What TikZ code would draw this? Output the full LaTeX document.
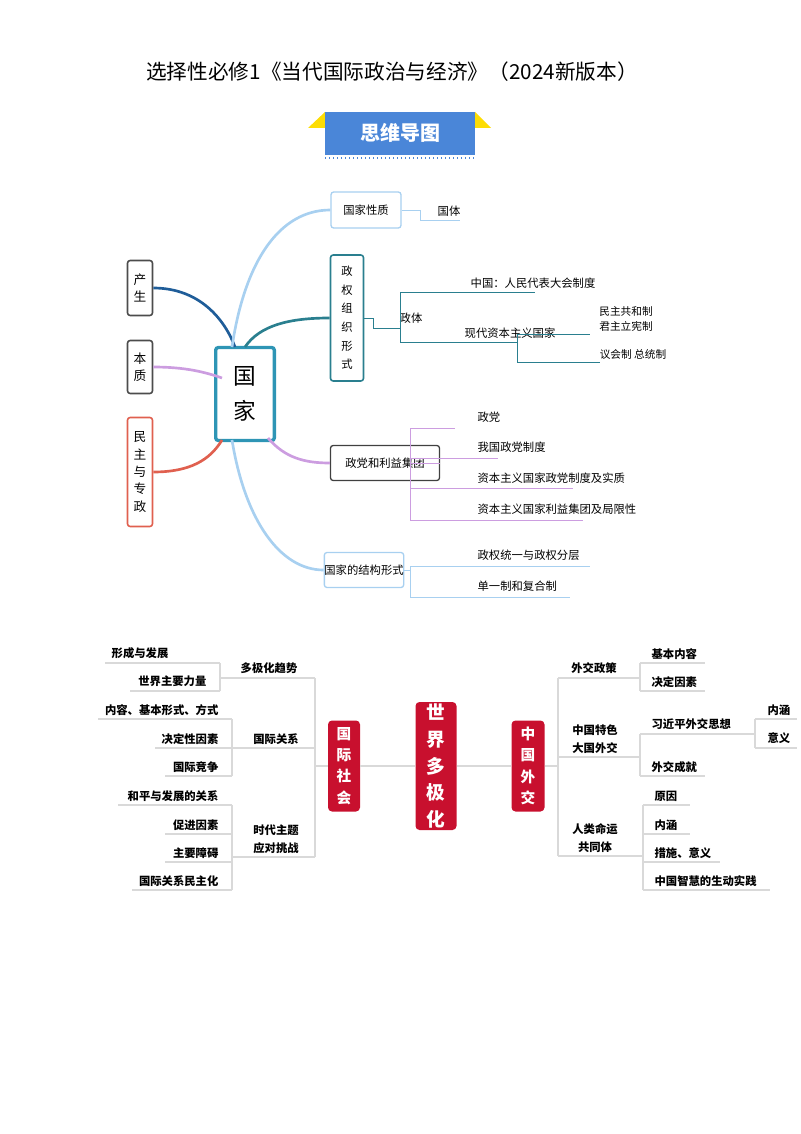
\documentclass[tikz,border=0pt]{standalone}
\usepackage{fontspec}
\setmainfont{Noto Sans CJK SC}
\definecolor{tealA}{HTML}{2E95B5}
\definecolor{tealB}{HTML}{2A7F8F}
\definecolor{lblue}{HTML}{A8D0F0}
\definecolor{lav}{HTML}{CC9DE0}
\definecolor{redA}{HTML}{E0604F}
\definecolor{dblue}{HTML}{1F5D99}
\definecolor{crim}{HTML}{C8102E}
\definecolor{bannr}{HTML}{4A86D8}
\definecolor{gline}{HTML}{D9D9D9}
\tikzset{
  smalltxt/.style={font=\fontsize{8.5}{10}\selectfont, inner sep=1pt},
  bt/.style={font=\fontsize{8.5}{10}\selectfont\bfseries, inner sep=1pt},
  vbox/.style={draw, rounded corners=2pt, line width=1.2pt, align=center, font=\fontsize{9.5}{13}\selectfont, inner sep=0pt},
  hbox/.style={draw, rounded corners=2pt, line width=1pt, inner sep=0pt, font=\fontsize{8.5}{10}\selectfont},
  redbox/.style={fill=crim, rounded corners=3pt, text=white, align=center, inner sep=0pt, font=\fontsize{13}{17}\selectfont\bfseries},
}
\begin{document}
\begin{tikzpicture}[x=0.75pt,y=-0.75pt]
\useasboundingbox (0,0) rectangle (800,1134);
% title
\node[font=\fontsize{15.5}{18}\selectfont] (title) at (392,72) {选择性必修1《当代国际政治与经济》（2024新版本）};
% banner
\fill[yellow!80!orange] (308,128) -- (325,112) -- (325,128) -- cycle;
\fill[yellow!80!orange] (475,112) -- (491,128) -- (475,128) -- cycle;
\fill[bannr] (325,112) rectangle (475,155);
\node[text=white, font=\fontsize{15}{18}\selectfont\bfseries] (banner) at (400,133) {思维导图};
\draw[bannr, dotted, line width=1pt] (325,158) -- (475,158);

% ===== part 1 =====
\node[vbox, draw=tealA, line width=2.5pt, minimum width=44pt*0.75/0.75, minimum height=93*0.75pt, text width=30pt, font=\fontsize{17}{26}\selectfont] (guo) at (245,394) {国\\家};
\node[vbox, draw=black!70, minimum width=25*0.75pt, minimum height=55*0.75pt] (cs) at (140,288) {产\\生};
\node[vbox, draw=black!70, minimum width=25*0.75pt, minimum height=53*0.75pt] (bz) at (140,367) {本\\质};
\node[vbox, draw=redA, minimum width=25*0.75pt, minimum height=109*0.75pt] (mz) at (140,472) {民\\主\\与\\专\\政};
\draw[dblue, line width=2pt] (cs.east) .. controls (200,288) and (225,320) .. (235,347);
\draw[lav, line width=2pt] (bz.east) .. controls (185,367) and (205,372) .. (222,378);
\draw[redA, line width=2pt] (mz.east) .. controls (190,472) and (210,460) .. (222,440);

\node[hbox, draw=lblue, minimum width=70*0.75pt, minimum height=36*0.75pt] (xz) at (366,210) {国家性质};
\node[vbox, draw=tealB, minimum width=33*0.75pt, minimum height=126*0.75pt, font=\fontsize{8.5}{14}\selectfont] (zq) at (347,318) {政\\权\\组\\织\\形\\式};
\node[hbox, draw=black!75, minimum width=109*0.75pt, minimum height=35*0.75pt] (zd) at (385,463) {政党和利益集团};
\node[hbox, draw=lblue, minimum width=65*0.75pt, minimum height=35*0.75pt] (jg) at (364,570) {国家的结构形式};

\draw[lblue, line width=2pt] (232,347) .. controls (245,260) and (280,210) .. (xz.west);
\draw[tealB, line width=2pt] (245,347) .. controls (260,325) and (290,318) .. (zq.west);
\draw[lav, line width=2pt] (268,438) .. controls (285,458) and (305,463) .. (zd.west);
\draw[lblue, line width=2pt] (232,440) .. controls (245,520) and (280,570) .. (jg.west);

% 国体
\node[smalltxt] (gt) at (449,211) {国体};
\draw[lblue] (xz.east) -- (420,210) -- (420,220) -- (460,220);
% 政体
\node[smalltxt] (zt) at (411,318) {政体};
\draw[tealB] (zq.east) -- (373,318) -- (373,328) -- (400,328);
\draw[tealB] (400,292) -- (400,342);
\draw[tealB] (400,292) -- (535,292);
\draw[tealB] (400,342) -- (517,342);
\node[smalltxt] (zg) at (533,283) {中国：人民代表大会制度};
\node[smalltxt] (xd) at (510,333) {现代资本主义国家};
\draw[tealB] (517,334) -- (517,362);
\draw[tealB] (517,334) -- (590,334);
\draw[tealB] (517,362) -- (600,362);
\node[smalltxt, align=left, font=\fontsize{8}{11}\selectfont] (gh) at (626,319) {民主共和制\\君主立宪制};
\node[smalltxt, font=\fontsize{8}{10}\selectfont] (yh) at (633,354) {议会制 总统制};
% 政党
\draw[lav] (zd.east) -- (410,463);
\draw[lav] (410,428) -- (410,520);
\draw[lav] (410,428) -- (455,428);
\draw[lav] (410,458) -- (498,458);
\draw[lav] (410,488) -- (573,488);
\draw[lav] (410,520) -- (583,520);
\node[smalltxt, anchor=base west] (p1) at (476,421) {政党};
\node[smalltxt, anchor=base west] (p2) at (476,451) {我国政党制度};
\node[smalltxt, anchor=base west] (p3) at (476,482) {资本主义国家政党制度及实质};
\node[smalltxt, anchor=base west] (p4) at (476,513) {资本主义国家利益集团及局限性};
% 结构
\draw[lblue] (jg.east) -- (410,570);
\draw[lblue] (410,566) -- (410,597);
\draw[lblue] (410,566) -- (590,566);
\draw[lblue] (410,597) -- (570,597);
\node[smalltxt, anchor=base west] (s1) at (476,559) {政权统一与政权分层};
\node[smalltxt, anchor=base west] (s2) at (476,590) {单一制和复合制};

% ===== part 2 =====
\node[redbox, minimum width=41*0.75pt, minimum height=128*0.75pt, font=\fontsize{14}{20}\selectfont\bfseries] (sj) at (436,766) {世\\界\\多\\极\\化};
\node[redbox, minimum width=32*0.75pt, minimum height=91*0.75pt, font=\fontsize{11}{16}\selectfont\bfseries] (gs) at (344,766) {国\\际\\社\\会};
\node[redbox, minimum width=33*0.75pt, minimum height=91*0.75pt, font=\fontsize{11}{16}\selectfont\bfseries] (zw) at (528,766) {中\\国\\外\\交};
\draw[gline, line width=1pt] (gs.east) -- (sj.west);
\draw[gline, line width=1pt] (sj.east) -- (zw.west);

% left main bracket
\draw[gline, line width=1pt] (gs.west) -- (315,766);
\draw[gline, line width=1pt] (315,678) -- (315,857);
% G1
\draw[gline, line width=1pt] (315,678) -- (220,678);
\draw[gline, line width=1pt] (220,663) -- (220,691);
\draw[gline, line width=1pt] (220,663) -- (105,663);
\draw[gline, line width=1pt] (220,691) -- (130,691);
\node[bt, anchor=base] (d1) at (269,672) {多极化趋势};
\node[bt, anchor=base east] (d2) at (170,657) {形成与发展};
\node[bt, anchor=base east] (d3) at (208,685) {世界主要力量};
% G2
\draw[gline, line width=1pt] (315,748) -- (232,748);
\draw[gline, line width=1pt] (232,719) -- (232,776);
\draw[gline, line width=1pt] (232,719) -- (98,719);
\draw[gline, line width=1pt] (232,748) -- (155,748);
\draw[gline, line width=1pt] (232,776) -- (165,776);
\node[bt, anchor=base] (r0) at (276,743) {国际关系};
\node[bt, anchor=base east] (r1) at (220,714) {内容、基本形式、方式};
\node[bt, anchor=base east] (r2) at (220,743) {决定性因素};
\node[bt, anchor=base east] (r3) at (220,771) {国际竞争};
% G3
\draw[gline, line width=1pt] (315,857) -- (232,857);
\draw[gline, line width=1pt] (232,805) -- (232,890);
\draw[gline, line width=1pt] (232,805) -- (118,805);
\draw[gline, line width=1pt] (232,834) -- (165,834);
\draw[gline, line width=1pt] (232,862) -- (165,862);
\draw[gline, line width=1pt] (232,890) -- (132,890);
\node[bt, align=center, font=\fontsize{8.5}{13.5}\selectfont\bfseries] (t0) at (276,839) {时代主题\\应对挑战};
\node[bt, anchor=base east] (t1) at (220,800) {和平与发展的关系};
\node[bt, anchor=base east] (t2) at (220,829) {促进因素};
\node[bt, anchor=base east] (t3) at (220,857) {主要障碍};
\node[bt, anchor=base east] (t4) at (220,885) {国际关系民主化};

% right main bracket
\draw[gline, line width=1pt] (zw.east) -- (558,766);
\draw[gline, line width=1pt] (558,678) -- (558,856);
% R1
\draw[gline, line width=1pt] (558,678) -- (640,678);
\draw[gline, line width=1pt] (640,663) -- (640,691);
\draw[gline, line width=1pt] (640,663) -- (705,663);
\draw[gline, line width=1pt] (640,691) -- (705,691);
\node[bt, anchor=base] (w0) at (594,672) {外交政策};
\node[bt, anchor=base west] (w1) at (650,658) {基本内容};
\node[bt, anchor=base west] (w2) at (650,686) {决定因素};
% R2
\draw[gline, line width=1pt] (558,757) -- (640,757);
\draw[gline, line width=1pt] (640,734) -- (640,776);
\draw[gline, line width=1pt] (640,734) -- (755,734);
\draw[gline, line width=1pt] (640,776) -- (705,776);
\draw[gline, line width=1pt] (755,719) -- (755,748);
\draw[gline, line width=1pt] (755,719) -- (797,719);
\draw[gline, line width=1pt] (755,748) -- (797,748);
\node[bt, align=center, font=\fontsize{8.5}{13.5}\selectfont\bfseries] (c0) at (595,739) {中国特色\\大国外交};
\node[bt, anchor=base west] (c1) at (650,728) {习近平外交思想};
\node[bt, anchor=base west] (c2) at (650,771) {外交成就};
\node[bt, anchor=base west] (c3) at (766,714) {内涵};
\node[bt, anchor=base west] (c4) at (766,742) {意义};
% R3
\draw[gline, line width=1pt] (558,856) -- (643,856);
\draw[gline, line width=1pt] (643,805) -- (643,890);
\draw[gline, line width=1pt] (643,805) -- (690,805);
\draw[gline, line width=1pt] (643,834) -- (690,834);
\draw[gline, line width=1pt] (643,862) -- (720,862);
\draw[gline, line width=1pt] (643,890) -- (770,890);
\node[bt, align=center, font=\fontsize{8.5}{13.5}\selectfont\bfseries] (h0) at (595,838) {人类命运\\共同体};
\node[bt, anchor=base west] (h1) at (653,800) {原因};
\node[bt, anchor=base west] (h2) at (653,829) {内涵};
\node[bt, anchor=base west] (h3) at (653,857) {措施、意义};
\node[bt, anchor=base west] (h4) at (653,885) {中国智慧的生动实践};
\end{tikzpicture}
\end{document}
